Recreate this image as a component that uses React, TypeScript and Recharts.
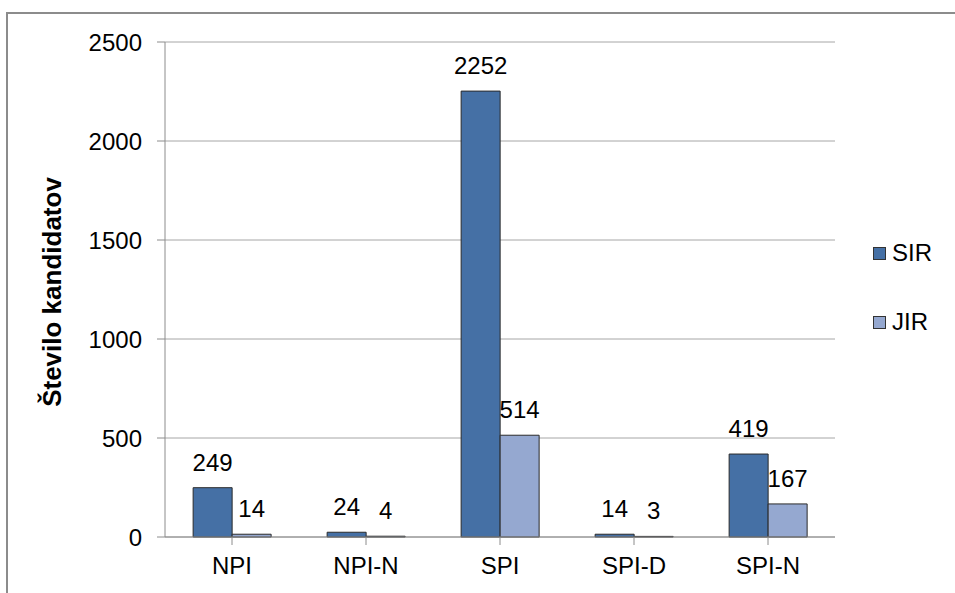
import React from 'react';
import { BarChart, Bar, XAxis, YAxis, CartesianGrid, LabelList, Label } from 'recharts';

const categories = ['NPI', 'NPI-N', 'SPI', 'SPI-D', 'SPI-N'];
const sirValues = [249, 24, 2252, 14, 419];
const jirValues = [14, 4, 514, 3, 167];
const yTicks = [0, 500, 1000, 1500, 2000, 2500];

const data = categories.map((c, i) => ({ category: c, SIR: sirValues[i], JIR: jirValues[i] }));

const FONT = '"Liberation Sans", Arial, sans-serif';
const SIR_COLOR = '#4570a5';
const JIR_COLOR = '#95a8d0';

const series = [['SIR', SIR_COLOR, 241], ['JIR', JIR_COLOR, 310]];

export default function App() {
    return (
        <div style={{ position: 'absolute', left: 0, top: 0, width: 955, height: 593, overflow: 'hidden', background: '#fff' }}>
            <div style={{ position: 'absolute', left: 6, top: 12, width: 1000, height: 1000, border: '2px solid #8c8c8c' }} />
            <div style={{ position: 'absolute', left: 0, top: 0 }}>
                <BarChart width={955} height={593} data={data} barGap={0} barCategoryGap="21%"
                    margin={{ top: 42, right: 120, bottom: 16, left: 65 }}>
                    <CartesianGrid vertical={false} stroke="#a6a6a6" />
                    <XAxis dataKey="category" height={40} tickSize={8} tickMargin={12}
                        stroke="#8c8c8c" tick={{ fill: '#000', fontSize: 24, fontFamily: FONT }} />
                    <YAxis width={100} domain={[0, 2500]} ticks={yTicks} tickSize={8} tickMargin={15}
                        stroke="#8c8c8c" tick={{ fill: '#000', fontSize: 24, fontFamily: FONT }}>
                        <Label content={() => (
                            <text x={61} y={292} transform="rotate(-90 61 292)" textAnchor="middle"
                                fontFamily={FONT} fontSize={26} fontWeight="bold" fill="#000">
                                Število kandidatov
                            </text>
                        )} />
                    </YAxis>
                    <Bar dataKey="SIR" fill={SIR_COLOR} stroke="#2a2a2a" strokeWidth={1} isAnimationActive={false}>
                        <LabelList dataKey="SIR" position="top" offset={17} fill="#000" fontSize={24} fontFamily={FONT} />
                    </Bar>
                    <Bar dataKey="JIR" fill={JIR_COLOR} stroke="#2a2a2a" strokeWidth={1} isAnimationActive={false}>
                        <LabelList dataKey="JIR" position="top" offset={17} fill="#000" fontSize={24} fontFamily={FONT} />
                    </Bar>
                </BarChart>
            </div>
            {series.map(([name, color, top]) => (
                <div key={name as string} style={{ position: 'absolute', left: 873, top: top as number, height: 24, display: 'flex', alignItems: 'center', fontFamily: FONT, fontSize: 24, color: '#000' }}>
                    <span style={{ display: 'inline-block', width: 11, height: 11, background: color as string, border: '1px solid #333', marginRight: 6 }} />
                    <span>{name}</span>
                </div>
            ))}
        </div>
    );
}
